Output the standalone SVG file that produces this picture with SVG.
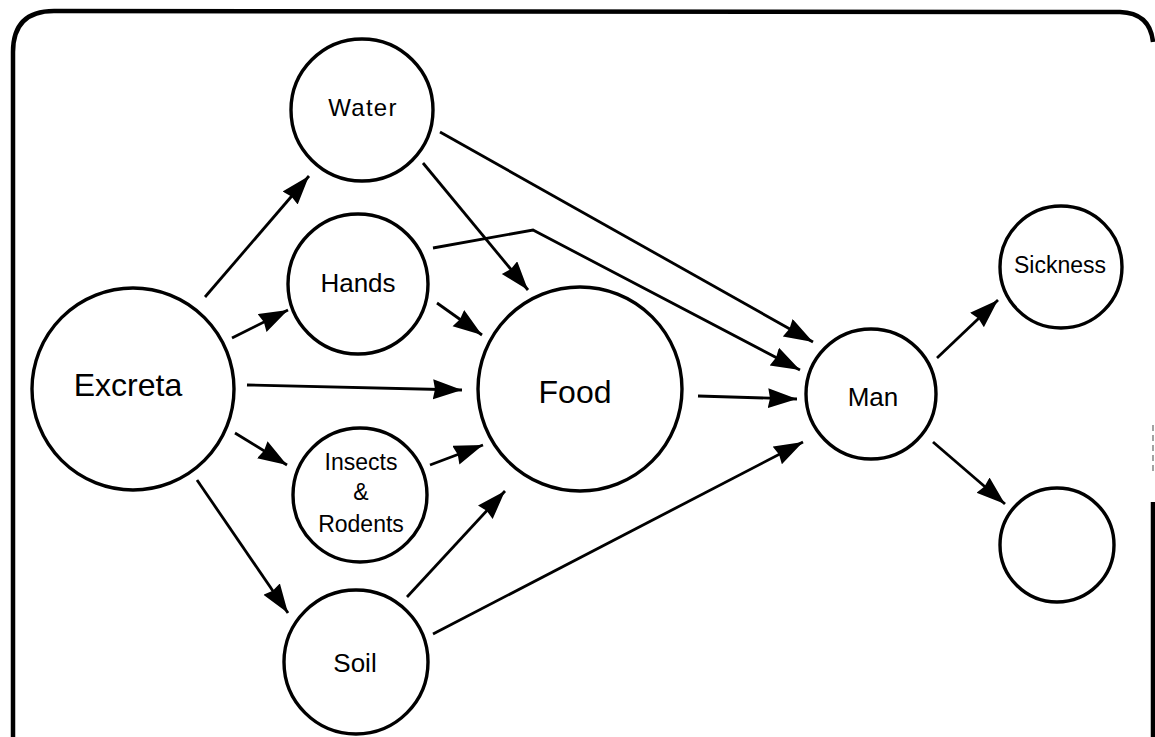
<svg xmlns="http://www.w3.org/2000/svg" width="1155" height="737" viewBox="0 0 1155 737">
<style>
.node{fill:#fff;stroke:#000;stroke-width:3.4}
.lbl{font-family:"Liberation Sans",Arial,sans-serif;fill:#000;text-anchor:middle}
.edge{stroke:#000;stroke-width:2.8;fill:none;marker-end:url(#ah)}
.frame{fill:none;stroke:#000;stroke-width:4.5}
</style>
<defs>
<marker id="ah" markerUnits="userSpaceOnUse" markerWidth="32" markerHeight="22" refX="29" refY="10" orient="auto">
<path d="M0,0 L29,10 L0,20 L2,10 z" fill="#000"/>
</marker>
</defs>
<rect width="1155" height="737" fill="#fff"/>
<g id="frame">
<path class="frame" d="M13,737 L13,52 Q13,11 54,11 L1120,12 Q1150,13 1153,42"/>
<line x1="1153" y1="425" x2="1153" y2="472" stroke="#000" stroke-width="1.2" stroke-dasharray="6,4" opacity="0.6"/>
<line class="frame" x1="1153" y1="502" x2="1153" y2="737" stroke-width="3"/>
</g>
<g id="connectors">
<line class="edge" x1="205" y1="297" x2="309" y2="176"/>
<line class="edge" x1="232" y1="338" x2="288" y2="310"/>
<line class="edge" x1="247" y1="385" x2="462" y2="390"/>
<line class="edge" x1="235" y1="433" x2="287" y2="465"/>
<line class="edge" x1="197" y1="480" x2="288" y2="613"/>
<line class="edge" x1="423" y1="163" x2="528" y2="290"/>
<line class="edge" x1="440" y1="132" x2="813" y2="342"/>
<polyline class="edge" points="433,248 533,230 800,370"/>
<line class="edge" x1="437" y1="303" x2="482" y2="335"/>
<line class="edge" x1="430" y1="465" x2="483" y2="445"/>
<line class="edge" x1="407" y1="597" x2="505" y2="491"/>
<line class="edge" x1="433" y1="634" x2="803" y2="442"/>
<line class="edge" x1="698" y1="396" x2="797" y2="399"/>
<line class="edge" x1="937" y1="358" x2="998" y2="300"/>
<line class="edge" x1="933" y1="442" x2="1005" y2="504"/>
</g>
<g id="excreta"><circle class="node" cx="133" cy="389" r="101"/><text class="lbl" x="128" y="396" font-size="32">Excreta</text></g>
<g id="water"><circle class="node" cx="362" cy="110" r="71"/><text class="lbl" x="363" y="116" font-size="24" letter-spacing="1.3">Water</text></g>
<g id="hands"><circle class="node" cx="358" cy="284" r="70"/><text class="lbl" x="358" y="292" font-size="26">Hands</text></g>
<g id="food"><circle class="node" cx="580" cy="389" r="102"/><text class="lbl" x="575" y="403" font-size="32">Food</text></g>
<g id="insects"><circle class="node" cx="360" cy="495" r="67"/>
<text class="lbl" x="361" y="470" font-size="23">Insects</text>
<text class="lbl" x="361" y="500" font-size="23">&amp;</text>
<text class="lbl" x="361" y="532" font-size="23">Rodents</text></g>
<g id="soil"><circle class="node" cx="356" cy="662" r="72"/><text class="lbl" x="355" y="672" font-size="26">Soil</text></g>
<g id="man"><circle class="node" cx="871" cy="394" r="65"/><text class="lbl" x="873" y="406" font-size="26">Man</text></g>
<g id="sickness"><circle class="node" cx="1061" cy="267" r="61"/><text class="lbl" x="1060" y="273" font-size="23">Sickness</text></g>
<g id="empty"><circle class="node" cx="1057" cy="545" r="57"/></g>
</svg>
